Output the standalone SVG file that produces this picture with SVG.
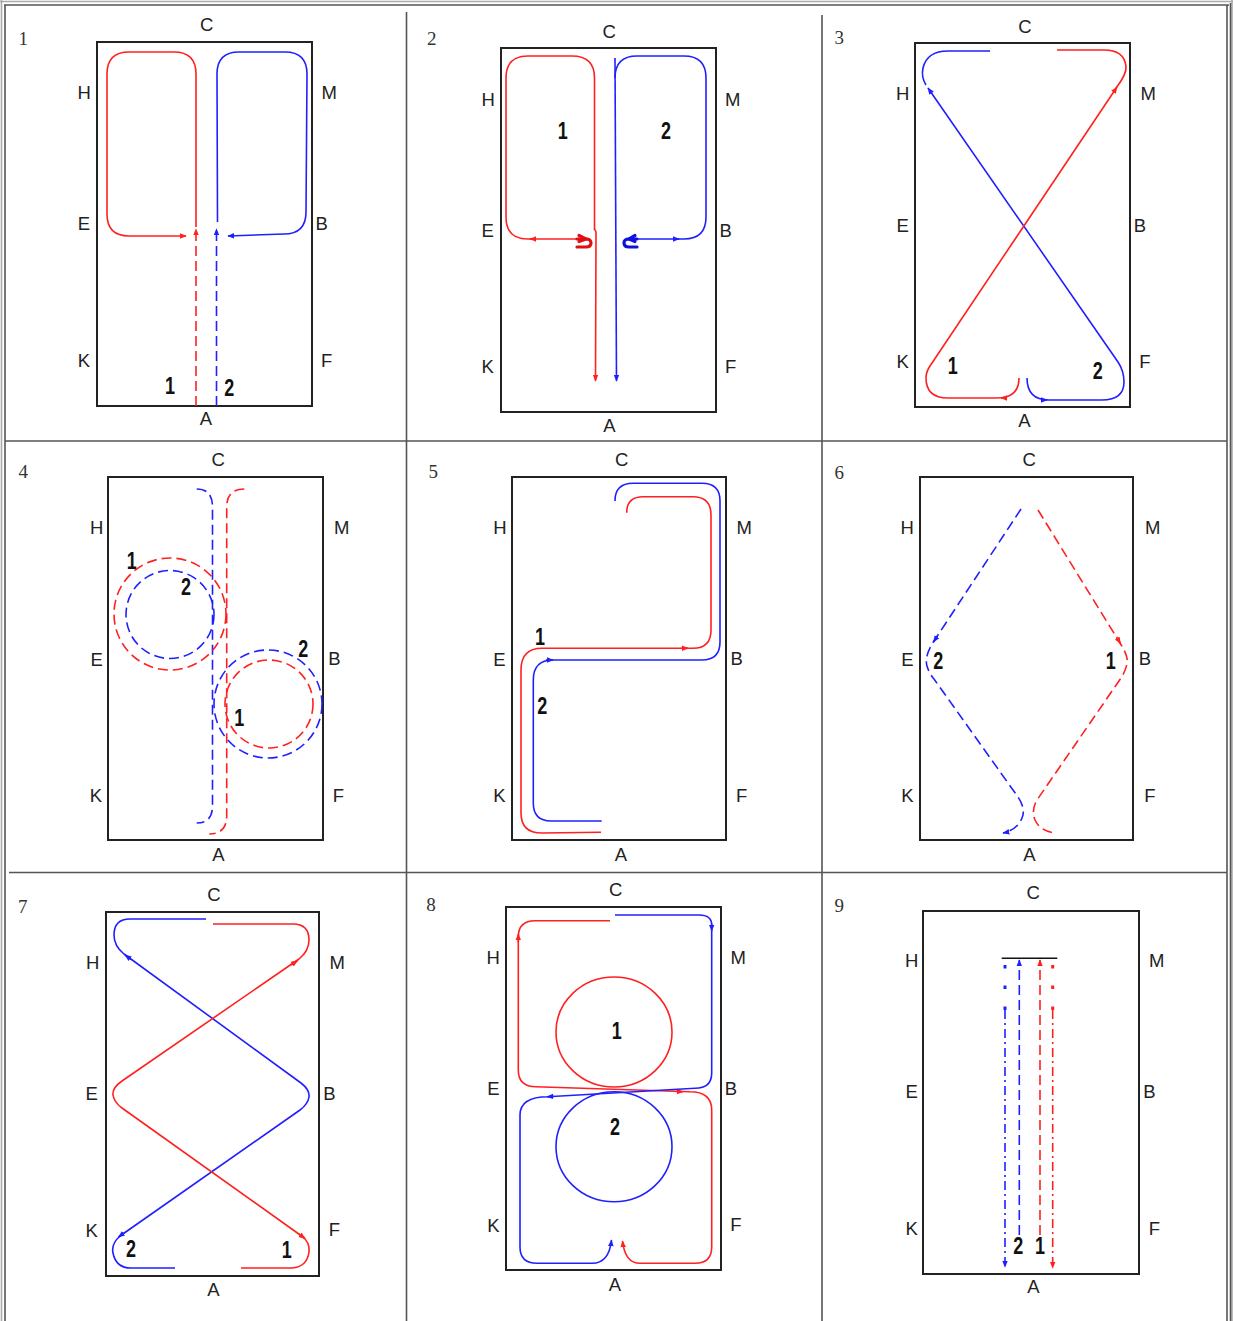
<svg xmlns="http://www.w3.org/2000/svg" width="1233" height="1321" viewBox="0 0 1233 1321">
<style>
.bg{fill:#fff}
.frame{fill:none;stroke:#555;stroke-width:1.6}
.frame2{fill:none;stroke:#aaa;stroke-width:1.6}
.arena{fill:none;stroke:#222;stroke-width:2}
.lbl{font-family:"Liberation Sans",Arial,sans-serif;font-size:18.5px;fill:#222;text-anchor:middle}
.pn{font-family:"Liberation Serif","Times New Roman",serif;font-size:19px;fill:#333;text-anchor:middle}
.num{font-family:"Liberation Sans",Arial,sans-serif;font-weight:bold;font-size:23px;fill:#111;text-anchor:middle}
.r{fill:none;stroke:#ff2020;stroke-width:1.6}
.b{fill:none;stroke:#2020ff;stroke-width:1.6}
.dash{stroke-dasharray:10,5}
.dd{stroke-dasharray:9,4,2,4}
.ar{marker-end:url(#ar)}
.ab{marker-end:url(#ab)}
.hr{fill:none;stroke:#e01010;stroke-width:3.2;stroke-linecap:round}
.hb{fill:none;stroke:#1010e0;stroke-width:3.2;stroke-linecap:round}
</style>
<defs>
<marker id="ar" viewBox="0 0 10 10" refX="9" refY="5" markerWidth="7" markerHeight="7" markerUnits="userSpaceOnUse" orient="auto"><path d="M0,1 L10,5 L0,9 z" fill="#ff2020"/></marker>
<marker id="ab" viewBox="0 0 10 10" refX="9" refY="5" markerWidth="7" markerHeight="7" markerUnits="userSpaceOnUse" orient="auto"><path d="M0,1 L10,5 L0,9 z" fill="#2020ff"/></marker>
</defs>
<rect class="bg" x="0" y="0" width="1233" height="1321"/>

<g id="grid">
<path class="frame2" d="M0,1.5 H1233 M1.5,0 V1321 M1232,0 V1321"/>
<path class="frame" d="M4,5 H1229 M5,5 V1321 M1227,5 V1321 M1230.5,3 V1321"/>
<path class="frame" d="M5,441 H1227 M9,872.5 H1227 M406.5,12 V1321 M822,15 V1321"/>
</g>

<!-- Panel 1 -->
<g id="panel1">
<rect class="arena" x="97" y="42" width="215" height="364"/>
<text class="pn" x="23.3" y="44.8">1</text>
<g class="labels">
<text class="lbl" x="206.7" y="30.5">C</text><text class="lbl" x="84.3" y="99">H</text><text class="lbl" x="329.3" y="99">M</text>
<text class="lbl" x="84" y="230">E</text><text class="lbl" x="321.7" y="230">B</text>
<text class="lbl" x="84" y="366.5">K</text><text class="lbl" x="326.7" y="366.5">F</text><text class="lbl" x="206" y="425">A</text>
<text class="num" x="170" y="393.5" textLength="10" lengthAdjust="spacingAndGlyphs">1</text><text class="num" x="229.3" y="395.8" textLength="10" lengthAdjust="spacingAndGlyphs">2</text>
</g>
</g>
<g id="panel1-paths">
<path class="r dash ar" d="M196,406 L196,229"/>
<path class="r ar" d="M196,227 L196,74 Q196,52 174,52 L129,52 Q107,52 107,74 L107,214 Q107,236 129,236 L186,236"/>
<path class="b dash ab" d="M216.5,406 L216.5,229"/>
<path class="b ab" d="M217.5,222 L217,74 Q217,52 239,52 L285,52 Q307,52 307,74 L306,212 Q306,234 284,234 L228,236"/>
</g>

<!-- Panel 2 -->
<g id="panel2">
<rect class="arena" x="501" y="48" width="215" height="364"/>
<text class="pn" x="431.7" y="44.8">2</text>
<g class="labels">
<text class="lbl" x="609.3" y="38.2">C</text><text class="lbl" x="488.3" y="105.5">H</text><text class="lbl" x="732.7" y="105.5">M</text>
<text class="lbl" x="487.7" y="236.5">E</text><text class="lbl" x="725.7" y="236.5">B</text>
<text class="lbl" x="487.7" y="373.2">K</text><text class="lbl" x="730.7" y="373.2">F</text><text class="lbl" x="609.3" y="431.5">A</text>
<text class="num" x="562.7" y="138.5" textLength="10" lengthAdjust="spacingAndGlyphs">1</text><text class="num" x="666" y="138.5" textLength="10" lengthAdjust="spacingAndGlyphs">2</text>
</g>
</g>
<g id="panel2-paths">
<path class="r" d="M594.5,230 L594.5,78 Q594.5,56 572,56 L528,56 Q506,56 506,78 L506,217 Q506,239 528,239 L585,239"/>
<path class="r ar" d="M536,239 L530,239"/>
<path class="r ar" d="M594.5,229 L596,232 L595.5,381"/>
<path class="hr" d="M577,239 L586,239 Q591,239 591,243 Q591,247 586,247 L577,247"/>
<path class="hr" d="M579,235.5 L586,239 L579,241.5"/>
<path class="b ab" d="M615,58 L616.5,381"/>
<path class="b" d="M615,78 Q615,56 637,56 L684,56 Q706,56 706,78 L706,217 Q706,239 684,239 L632,239"/>
<path class="b ab" d="M673,239 L679,239"/>
<path class="hb" d="M637,239 L629,239 Q624,239 624,243 Q624,247 629,247 L637,247"/>
<path class="hb" d="M635,235.5 L629,239 L635,241.5"/>
</g>

<!-- Panel 3 -->
<g id="panel3">
<rect class="arena" x="915" y="43" width="215" height="364"/>
<text class="pn" x="839.3" y="43.8">3</text>
<g class="labels">
<text class="lbl" x="1025" y="32.5">C</text><text class="lbl" x="902.7" y="99.8">H</text><text class="lbl" x="1148.3" y="99.8">M</text>
<text class="lbl" x="902.7" y="231.5">E</text><text class="lbl" x="1140" y="231.5">B</text>
<text class="lbl" x="902.7" y="368.2">K</text><text class="lbl" x="1145" y="368.2">F</text><text class="lbl" x="1024.3" y="427.2">A</text>
<text class="num" x="952.7" y="374.2" textLength="10" lengthAdjust="spacingAndGlyphs">1</text><text class="num" x="1097.7" y="378.5" textLength="10" lengthAdjust="spacingAndGlyphs">2</text>
</g>
</g>
<g id="panel3-paths">
<path class="b ab" d="M1027,378 Q1027,400 1049,400 L1102,400 Q1124,400 1124,382 Q1124,371 1118,362 L928,88"/>
<path class="b" d="M926,85 Q921,77 923,68 Q927,51 948,51 L990,51"/>
<path class="b ab" d="M1041,400 L1047,400"/>
<path class="r ar" d="M1019,378 Q1019,398 997,398 L948,398 Q926,398 926,378 Q926,372 930,366 L1117,87"/>
<path class="r" d="M1116,88 Q1127,74 1126,66 Q1124,50 1104,50 L1057,50"/>
<path class="r ar" d="M1007,398 L1001,398"/>
</g>

<!-- Panel 4 -->
<g id="panel4">
<rect class="arena" x="108" y="477" width="215" height="363"/>
<text class="pn" x="23.3" y="478.2">4</text>
<g class="labels">
<text class="lbl" x="218.3" y="465.8">C</text><text class="lbl" x="96.7" y="533.8">H</text><text class="lbl" x="341.7" y="533.8">M</text>
<text class="lbl" x="96.7" y="665.5">E</text><text class="lbl" x="334.3" y="664.8">B</text>
<text class="lbl" x="96" y="801.5">K</text><text class="lbl" x="338.3" y="801.5">F</text><text class="lbl" x="218.3" y="860.8">A</text>
<text class="num" x="131.7" y="568.5" textLength="10" lengthAdjust="spacingAndGlyphs">1</text><text class="num" x="186" y="595.2" textLength="10" lengthAdjust="spacingAndGlyphs">2</text>
<text class="num" x="303.3" y="656.8" textLength="10" lengthAdjust="spacingAndGlyphs">2</text><text class="num" x="239.3" y="725.8" textLength="10" lengthAdjust="spacingAndGlyphs">1</text>
</g>
</g>
<g id="panel4-paths">
<path class="b dash" d="M196.7,489 Q212.5,489 212.5,507 L212.5,806 Q212.5,823 196.7,823"/>
<path class="r dash" d="M244.3,489 Q226.7,489 226.7,507 L226.7,816 Q226.7,834 209.3,834"/>
<circle class="r dash" cx="170" cy="614" r="56"/>
<circle class="b dash" cx="170" cy="614.5" r="44"/>
<circle class="b dash" cx="268" cy="704" r="54"/>
<circle class="r dash" cx="269" cy="704" r="44"/>
</g>

<!-- Panel 5 -->
<g id="panel5">
<rect class="arena" x="512" y="477" width="214" height="363"/>
<text class="pn" x="433.3" y="478.2">5</text>
<g class="labels">
<text class="lbl" x="621.7" y="465.8">C</text><text class="lbl" x="500" y="533.8">H</text><text class="lbl" x="744.3" y="533.8">M</text>
<text class="lbl" x="499.3" y="665.5">E</text><text class="lbl" x="736.7" y="664.8">B</text>
<text class="lbl" x="499.3" y="801.5">K</text><text class="lbl" x="741.7" y="801.5">F</text><text class="lbl" x="621" y="860.8">A</text>
<text class="num" x="540" y="645.2" textLength="10" lengthAdjust="spacingAndGlyphs">1</text><text class="num" x="542.3" y="713.5" textLength="10" lengthAdjust="spacingAndGlyphs">2</text>
</g>
</g>
<g id="panel5-paths">
<path class="b" d="M601.7,821 L551,821 Q533.3,821 533.3,803 L533.3,680 Q533.3,660 553,660 L702,660 Q720,660 720,642 L720,501 Q720,483.3 702,483.3 L633,483.3 Q615,483.3 615,501"/>
<path class="b ab" d="M546,660 L553,660"/>
<path class="r" d="M601,832.3 L541.7,833 Q521,833 521,813 L521,670 Q521,648.3 542,648.3 L693,648.3 Q711,648.3 711,630 L711,515 Q711,496.7 693,496.7 L643,496.7 Q626.7,496.7 626.7,512.7"/>
<path class="r ar" d="M681,648.3 L688,648.3"/>
</g>

<!-- Panel 6 -->
<g id="panel6">
<rect class="arena" x="920" y="477" width="213" height="363"/>
<text class="pn" x="839.3" y="479.2">6</text>
<g class="labels">
<text class="lbl" x="1029.3" y="465.8">C</text><text class="lbl" x="907.3" y="533.8">H</text><text class="lbl" x="1152.7" y="533.8">M</text>
<text class="lbl" x="907.3" y="665.5">E</text><text class="lbl" x="1145" y="664.8">B</text>
<text class="lbl" x="907.3" y="801.5">K</text><text class="lbl" x="1150" y="801.5">F</text><text class="lbl" x="1029.3" y="860.8">A</text>
<text class="num" x="938.3" y="668.5" textLength="10" lengthAdjust="spacingAndGlyphs">2</text><text class="num" x="1110.7" y="668.5" textLength="10" lengthAdjust="spacingAndGlyphs">1</text>
</g>
</g>
<g id="panel6-paths">
<path class="b dash ab" d="M1021,509 L934,641 Q924,656 927,666 Q929,673 934,679 L1018,797 Q1026,809 1022,818 Q1017,830 1003,833"/>
<path class="b ab" d="M937.5,636 L933.5,642"/>
<path class="r dash" d="M1038,510 L1120,643 Q1129,657 1127,664 Q1125,672 1121,678 L1037,800 Q1031,810 1035,820 Q1040,831 1055,833"/>
<path class="r ar" d="M1116.5,637 L1120.5,643.5"/>
</g>

<!-- Panel 7 -->
<g id="panel7">
<rect class="arena" x="106" y="912" width="213" height="364"/>
<text class="pn" x="22.7" y="912.5">7</text>
<g class="labels">
<text class="lbl" x="214" y="900.5">C</text><text class="lbl" x="92.7" y="969.2">H</text><text class="lbl" x="337.3" y="969.2">M</text>
<text class="lbl" x="91.7" y="1099.8">E</text><text class="lbl" x="329.3" y="1099.8">B</text>
<text class="lbl" x="91.7" y="1236.5">K</text><text class="lbl" x="334.3" y="1235.8">F</text><text class="lbl" x="213.3" y="1295.5">A</text>
<text class="num" x="131" y="1256.8" textLength="10" lengthAdjust="spacingAndGlyphs">2</text><text class="num" x="286.7" y="1257.5" textLength="10" lengthAdjust="spacingAndGlyphs">1</text>
</g>
</g>
<g id="panel7-paths">
<path class="b" d="M206,919 L130,919 Q114,919 114,935 Q114,946 124,954 L301,1083 Q310,1090 309,1097 Q308,1104 300,1110 L120,1236 Q111,1244 113,1253 Q116,1268 131,1268 L175,1268"/>
<path class="b ab" d="M131,959.3 L125,955"/>
<path class="b ab" d="M124,1233 L118.5,1237"/>
<path class="r" d="M213,924 L293,924 Q309,924 309,940 Q309,951 299,959 L122,1081 Q112,1088 113,1095 Q114,1102 122,1108 L303,1237 Q310,1243 309,1252 Q307,1267 292,1268 L241,1268"/>
<path class="r ar" d="M291,965 L297.5,960.7"/>
<path class="r ar" d="M299,1234 L305,1238.5"/>
</g>

<!-- Panel 8 -->
<g id="panel8">
<rect class="arena" x="506" y="907" width="215" height="363"/>
<text class="pn" x="431" y="910.8">8</text>
<g class="labels">
<text class="lbl" x="615.7" y="895.8">C</text><text class="lbl" x="493.3" y="963.8">H</text><text class="lbl" x="738.3" y="963.8">M</text>
<text class="lbl" x="493.3" y="1094.8">E</text><text class="lbl" x="731" y="1094.8">B</text>
<text class="lbl" x="493.3" y="1231.5">K</text><text class="lbl" x="736" y="1230.8">F</text><text class="lbl" x="615" y="1290.8">A</text>
<text class="num" x="616.7" y="1038.5" textLength="10" lengthAdjust="spacingAndGlyphs">1</text><text class="num" x="615" y="1134.5" textLength="10" lengthAdjust="spacingAndGlyphs">2</text>
</g>
</g>
<g id="panel8-paths">
<ellipse class="r" cx="614" cy="1032" rx="58" ry="55"/>
<ellipse class="b" cx="614" cy="1146.7" rx="58" ry="55"/>
<path class="r ar" d="M610,920.7 L535,920.7 Q518.3,920.7 518.3,937 L518.3,1070 Q518.3,1086.7 536,1086.7 L690,1091.7 Q711.7,1091.7 711.7,1110 L711.7,1247 Q711.7,1263.3 695,1263.3 L640,1263.3 Q625,1263.3 622.5,1241"/>
<path class="r ar" d="M518.3,942 L518.3,934"/>
<path class="r ar" d="M676,1091.5 L683,1091.7"/>
<path class="b" d="M615,915 L699,915 Q711.7,915 711.7,925"/>
<path class="b ab" d="M711.7,924 L711.7,931"/>
<path class="b ab" d="M711.7,930 L711.7,1073 Q711.7,1088.3 695,1088.3 L548,1096.7 Q520,1096.7 520,1115 L520,1247 Q520,1263.3 537,1263.3 L592,1263.3 Q609,1263.3 611.5,1240"/>
<path class="b ab" d="M554,1096.4 L547,1096.7"/>
</g>

<!-- Panel 9 -->
<g id="panel9">
<rect class="arena" x="923" y="911" width="216" height="363"/>
<text class="pn" x="839.3" y="911.5">9</text>
<g class="labels">
<text class="lbl" x="1033.3" y="899.2">C</text><text class="lbl" x="911.7" y="966.5">H</text><text class="lbl" x="1156.7" y="966.5">M</text>
<text class="lbl" x="911.7" y="1098.2">E</text><text class="lbl" x="1149.3" y="1098.2">B</text>
<text class="lbl" x="911.7" y="1234.8">K</text><text class="lbl" x="1154.3" y="1234.8">F</text><text class="lbl" x="1033.3" y="1293.2">A</text>
<text class="num" x="1018.3" y="1253.5" textLength="10" lengthAdjust="spacingAndGlyphs">2</text><text class="num" x="1040" y="1253.5" textLength="10" lengthAdjust="spacingAndGlyphs">1</text>
</g>
</g>
<g id="panel9-paths">
<path fill="none" stroke="#111" stroke-width="1.6" d="M1001.7,958.3 L1057.3,958.3"/>
<g fill="#2020ff"><rect x="1003.5" y="965" width="3" height="3.5"/><rect x="1003.5" y="985.5" width="3" height="3.5"/><rect x="1003.5" y="1006.5" width="3" height="3.5"/></g>
<g fill="#ff2020"><rect x="1051.2" y="965" width="3" height="3.5"/><rect x="1051.2" y="985.5" width="3" height="3.5"/><rect x="1051.2" y="1006.5" width="3" height="3.5"/></g>
<path class="b dd ab" d="M1005,1010 L1005,1267"/>
<path class="b dash ab" d="M1019.3,1235 L1019.3,960"/>
<path class="r dash ar" d="M1040,1235 L1040,960"/>
<path class="r dd ar" d="M1052.7,1010 L1052.7,1268"/>
</g>
</svg>
